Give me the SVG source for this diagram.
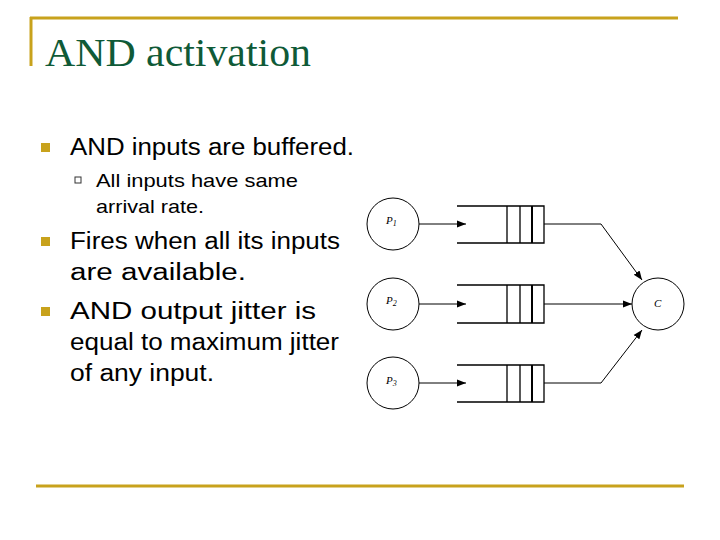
<svg xmlns="http://www.w3.org/2000/svg" width="720" height="540" viewBox="0 0 720 540">
<style>
.g{stroke:#c8a21c;stroke-width:3}
.t{font-family:"Liberation Sans",Arial,sans-serif;fill:#000}
.n{fill:#fff;stroke:#000;stroke-width:1}
.q{stroke:#000;stroke-width:1.3;fill:none}
.l{font-family:"Liberation Serif",serif;font-style:italic;font-size:11px}
</style>
<defs><marker id="a" viewBox="0 0 10 10" refX="10" refY="5" markerWidth="9" markerHeight="9" markerUnits="userSpaceOnUse" orient="auto"><path d="M0,1 L10,5 L0,9Z" fill="#000"/></marker></defs>
<rect width="720" height="540" fill="#fff"/>
<line class="g" x1="30" y1="18" x2="678" y2="18"/>
<line class="g" x1="31" y1="17" x2="31" y2="66"/>
<line class="g" x1="36" y1="486" x2="684" y2="486"/>
<text x="45" y="66" font-family="Liberation Serif,serif" font-size="40" fill="#0f5a37" textLength="266" lengthAdjust="spacingAndGlyphs">AND activation</text>
<rect x="41" y="143" width="9" height="9" fill="#c8a21c"/>
<text class="t" x="70" y="155" font-size="23" textLength="284" lengthAdjust="spacingAndGlyphs">AND inputs are buffered.</text>
<rect x="75" y="177" width="6" height="6" fill="none" stroke="#333" stroke-width="1"/>
<text class="t" x="96" y="187" font-size="19" textLength="202" lengthAdjust="spacingAndGlyphs">All inputs have same</text>
<text class="t" x="96" y="213" font-size="19" textLength="108" lengthAdjust="spacingAndGlyphs">arrival rate.</text>
<rect x="41" y="237" width="9" height="9" fill="#c8a21c"/>
<text class="t" x="70" y="249" font-size="23" textLength="270" lengthAdjust="spacingAndGlyphs">Fires when all its inputs</text>
<text class="t" x="70" y="280" font-size="23" textLength="176" lengthAdjust="spacingAndGlyphs">are available.</text>
<rect x="41" y="307" width="9" height="9" fill="#c8a21c"/>
<text class="t" x="70" y="319" font-size="23" textLength="246" lengthAdjust="spacingAndGlyphs">AND output jitter is</text>
<text class="t" x="70" y="350" font-size="23" textLength="269" lengthAdjust="spacingAndGlyphs">equal to maximum jitter</text>
<text class="t" x="70" y="381" font-size="23" textLength="144" lengthAdjust="spacingAndGlyphs">of any input.</text>
<g id="connectors" stroke="#000" stroke-width="1" fill="none">
<line x1="419" y1="224" x2="466" y2="224" marker-end="url(#a)"/>
<line x1="419" y1="304" x2="466" y2="304" marker-end="url(#a)"/>
<line x1="419" y1="383" x2="466" y2="383" marker-end="url(#a)"/>
<polyline points="544,224 601,224 642,280" marker-end="url(#a)"/>
<line x1="544" y1="304" x2="632" y2="304" marker-end="url(#a)"/>
<polyline points="544,383 601,383 642,330" marker-end="url(#a)"/>
</g>
<g id="q1"><path class="q" d="M457,206H544V243H457M507,206V243M520,206V243M544,206V243"/><line x1="532" y1="206" x2="532" y2="243" stroke="#000" stroke-width="2"/></g>
<g id="q2"><path class="q" d="M457,285H544V323H457M507,285V323M520,285V323M544,285V323"/><line x1="532" y1="285" x2="532" y2="323" stroke="#000" stroke-width="2"/></g>
<g id="q3"><path class="q" d="M457,365H544V402H457M507,365V402M520,365V402M544,365V402"/><line x1="532" y1="365" x2="532" y2="402" stroke="#000" stroke-width="2"/></g>
<g id="p1"><circle class="n" cx="393" cy="224" r="26"/><text class="l" x="386" y="224">P<tspan font-size="8" dy="2">1</tspan></text></g>
<g id="p2"><circle class="n" cx="393" cy="304" r="26"/><text class="l" x="386" y="304">P<tspan font-size="8" dy="2">2</tspan></text></g>
<g id="p3"><circle class="n" cx="393" cy="383" r="26"/><text class="l" x="386" y="384">P<tspan font-size="8" dy="2">3</tspan></text></g>
<g id="c"><circle class="n" cx="658" cy="304" r="26"/><text class="l" x="654" y="307">C</text></g>
</svg>
